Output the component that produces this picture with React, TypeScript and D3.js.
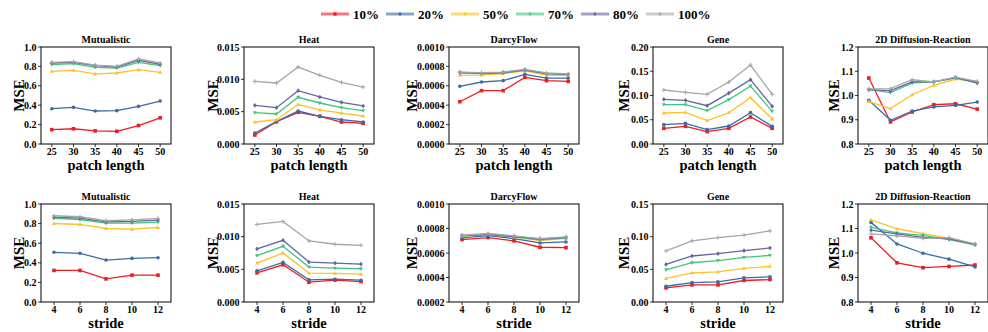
import React from 'react';
import * as d3 from 'd3';

const seriesNames = ['10%', '20%', '50%', '70%', '80%', '100%'];
const seriesColors = ['#ee1c25', '#3b6ba5', '#ffc125', '#3dc67d', '#6464a4', '#a6a6a6'];
const seriesMarkers = ['square', 'circle', 'triUp', 'triDown', 'diamond', 'plus'];

const patchLengths = [25, 30, 35, 40, 45, 50];
const strides = [4, 6, 8, 10, 12];
const titles = ['Mutualistic', 'Heat', 'DarcyFlow', 'Gene', '2D Diffusion-Reaction'];

// Row 1: patch length
const mutualisticPatch = [
  [0.148, 0.157, 0.135, 0.131, 0.19, 0.27],
  [0.364, 0.378, 0.34, 0.344, 0.388, 0.443],
  [0.749, 0.76, 0.722, 0.732, 0.766, 0.739],
  [0.818, 0.828, 0.79, 0.783, 0.842, 0.808],
  [0.835, 0.842, 0.808, 0.794, 0.863, 0.821],
  [0.842, 0.849, 0.814, 0.8, 0.876, 0.835],
];
const heatPatch = [
  [0.00139, 0.00345, 0.0049, 0.00428, 0.0034, 0.0032],
  [0.0017, 0.00345, 0.0051, 0.00428, 0.00376, 0.0034],
  [0.0034, 0.00376, 0.00613, 0.00526, 0.00479, 0.00433],
  [0.00485, 0.00464, 0.00722, 0.00634, 0.00562, 0.00515],
  [0.00598, 0.00562, 0.00825, 0.00727, 0.00644, 0.00588],
  [0.00969, 0.00943, 0.0119, 0.01062, 0.00954, 0.00881],
];
const darcyPatch = [
  [0.000436, 0.00055, 0.00055, 0.000687, 0.000653, 0.000646],
  [0.000595, 0.000639, 0.000653, 0.000718, 0.00068, 0.00068],
  [0.000708, 0.000711, 0.000725, 0.000753, 0.000711, 0.000708],
  [0.000732, 0.000725, 0.000732, 0.00076, 0.000722, 0.000715],
  [0.000738, 0.00073, 0.000737, 0.000765, 0.000727, 0.000718],
  [0.000742, 0.000735, 0.000742, 0.00077, 0.000732, 0.000722],
];
const genePatch = [
  [0.0323, 0.0364, 0.0254, 0.0323, 0.0557, 0.0323],
  [0.0399, 0.0426, 0.0296, 0.0371, 0.0646, 0.0364],
  [0.0639, 0.0653, 0.0481, 0.0646, 0.0955, 0.0515],
  [0.0811, 0.0811, 0.0687, 0.0914, 0.1196, 0.0674],
  [0.0921, 0.09, 0.079, 0.105, 0.1326, 0.0777],
  [0.1113, 0.1065, 0.1024, 0.1278, 0.1629, 0.1024],
];
const diffusionPatch = [
  [1.072, 0.891, 0.932, 0.962, 0.966, 0.944],
  [0.98, 0.898, 0.936, 0.953, 0.959, 0.973],
  [0.975, 0.946, 1.003, 1.042, 1.068, 1.058],
  [1.024, 1.012, 1.052, 1.056, 1.072, 1.052],
  [1.024, 1.02, 1.056, 1.056, 1.075, 1.052],
  [1.027, 1.028, 1.065, 1.056, 1.076, 1.058],
];

// Row 2: stride
const mutualisticStride = [
  [0.322, 0.322, 0.236, 0.274, 0.274],
  [0.507, 0.497, 0.428, 0.445, 0.452],
  [0.801, 0.791, 0.75, 0.743, 0.76],
  [0.853, 0.842, 0.805, 0.805, 0.815],
  [0.866, 0.856, 0.818, 0.822, 0.836],
  [0.88, 0.87, 0.829, 0.839, 0.853],
];
const heatStride = [
  [0.00447, 0.0057, 0.00303, 0.00334, 0.00313],
  [0.00478, 0.00606, 0.00339, 0.00349, 0.00334],
  [0.00596, 0.0075, 0.00442, 0.00437, 0.00426],
  [0.00709, 0.00853, 0.00534, 0.00519, 0.00509],
  [0.00812, 0.00945, 0.00611, 0.00596, 0.0058],
  [0.01187, 0.01233, 0.00935, 0.00884, 0.00868],
];
const darcyStride = [
  [0.00071, 0.000726, 0.000699, 0.000647, 0.000644],
  [0.000723, 0.000742, 0.000718, 0.000682, 0.00069],
  [0.000737, 0.00075, 0.000731, 0.000701, 0.00072],
  [0.00074, 0.00075, 0.000732, 0.000707, 0.000723],
  [0.000742, 0.000753, 0.000734, 0.000715, 0.000726],
  [0.000745, 0.000759, 0.00074, 0.000718, 0.000732],
];
const geneStride = [
  [0.0216, 0.0262, 0.0262, 0.0329, 0.0344],
  [0.0241, 0.0298, 0.0308, 0.037, 0.0385],
  [0.036, 0.0447, 0.0462, 0.0514, 0.0545],
  [0.0493, 0.0601, 0.0632, 0.0683, 0.0714],
  [0.0575, 0.0704, 0.074, 0.0786, 0.0827],
  [0.0781, 0.0935, 0.0986, 0.1022, 0.1089],
];
const diffusionStride = [
  [1.062, 0.96, 0.94, 0.945, 0.951],
  [1.125, 1.037, 0.999, 0.975, 0.943],
  [1.135, 1.099, 1.079, 1.06, 1.033],
  [1.105, 1.082, 1.072, 1.055, 1.033],
  [1.093, 1.078, 1.064, 1.058, 1.035],
  [1.078, 1.07, 1.06, 1.063, 1.037],
];

// Y axis settings per panel: [min, max, step, decimals]
const yPatchDomains = [[0, 1, 0.2, 1], [0, 0.015, 0.005, 3], [0, 0.001, 0.0002, 4], [0, 0.2, 0.05, 2], [0.8, 1.2, 0.1, 1]];
const yStrideDomains = [[0, 1, 0.2, 1], [0, 0.015, 0.005, 3], [0.0002, 0.001, 0.0002, 4], [0, 0.15, 0.05, 2], [0.8, 1.2, 0.1, 1]];

const patchData = [mutualisticPatch, heatPatch, darcyPatch, genePatch, diffusionPatch];
const strideData = [mutualisticStride, heatStride, darcyStride, geneStride, diffusionStride];

const W = 988;
const H = 332;
const FONT = 'Liberation Serif';
const panelLefts = [41, 244, 449, 653, 858];
const panelWidth = 130;
const yLabelOffsets = [17, 26, 32, 24, 19];
const rows = [
  { top: 47, bottom: 144, xs: patchLengths, xDomain: [22.5, 52.5], xLabel: 'patch length', data: patchData, yd: yPatchDomains },
  { top: 204, bottom: 302, xs: strides, xDomain: [3, 13], xLabel: 'stride', data: strideData, yd: yStrideDomains },
];

function Marker({ type, x, y, color, s = 1.8 }: { type: string; x: number; y: number; color: string; s?: number }) {
  switch (type) {
    case 'square':
      return <rect x={x - s} y={y - s} width={2 * s} height={2 * s} fill={color} />;
    case 'circle':
      return <circle cx={x} cy={y} r={s} fill={color} />;
    case 'triUp':
      return <path d={`M${x},${y - s * 1.2}L${x + s * 1.1},${y + s * 0.8}L${x - s * 1.1},${y + s * 0.8}Z`} fill={color} />;
    case 'triDown':
      return <path d={`M${x},${y + s * 1.2}L${x + s * 1.1},${y - s * 0.8}L${x - s * 1.1},${y - s * 0.8}Z`} fill={color} />;
    case 'diamond':
      return <path d={`M${x},${y - s * 1.3}L${x + s},${y}L${x},${y + s * 1.3}L${x - s},${y}Z`} fill={color} />;
    default:
      return <path d={`M${x - s * 1.2},${y}H${x + s * 1.2}M${x},${y - s * 1.2}V${y + s * 1.2}`} stroke={color} strokeWidth={1} />;
  }
}

function Panel({ row, idx }: { row: any; idx: number }) {
  const left = panelLefts[idx];
  const right = left + panelWidth;
  const [ymin, ymax, step, dec] = row.yd[idx];
  const x = d3.scaleLinear().domain(row.xDomain).range([left, right]);
  const y = d3.scaleLinear().domain([ymin, ymax]).range([row.bottom, row.top]);
  const yTicks = d3.range(ymin, ymax + step / 2, step);
  const fmt = d3.format(`.${dec}f`);
  const line = d3.line<number>().x((_, i) => x(row.xs[i])).y((v) => y(v));
  const series: number[][] = row.data[idx];
  return (
    <g>
      <text x={(left + right) / 2} y={row.top - 4} textAnchor="middle" fontSize={10} fontWeight="bold" fontFamily={FONT}>
        {titles[idx]}
      </text>
      {series.map((vals, si) => (
        <g key={si}>
          <path d={line(vals) || ''} fill="none" stroke={seriesColors[si]} strokeWidth={1.3} />
          {vals.map((v, i) => (
            <Marker key={i} type={seriesMarkers[si]} x={x(row.xs[i])} y={y(v)} color={seriesColors[si]} />
          ))}
        </g>
      ))}
      <rect x={left} y={row.top} width={panelWidth} height={row.bottom - row.top} fill="none" stroke="#000" strokeWidth={1} />
      {yTicks.map((t: number, i: number) => (
        <g key={i}>
          <line x1={left - 3} x2={left} y1={y(t)} y2={y(t)} stroke="#000" strokeWidth={0.8} />
          <text x={left - 4.5} y={y(t)} dy="0.35em" textAnchor="end" fontSize={10} fontWeight="bold" fontFamily={FONT}>
            {fmt(t)}
          </text>
        </g>
      ))}
      {row.xs.map((t: number, i: number) => (
        <g key={i}>
          <line x1={x(t)} x2={x(t)} y1={row.bottom} y2={row.bottom + 3} stroke="#000" strokeWidth={0.8} />
          <text x={x(t)} y={row.bottom + 10.5} textAnchor="middle" fontSize={10} fontWeight="bold" fontFamily={FONT}>
            {t}
          </text>
        </g>
      ))}
      <text x={(left + right) / 2} y={row.bottom + 25.5} textAnchor="middle" fontSize={14.5} fontWeight="bold" fontFamily={FONT}>
        {row.xLabel}
      </text>
      <text
        transform={`translate(${left - yLabelOffsets[idx]},${(row.top + row.bottom) / 2}) rotate(-90)`}
        textAnchor="middle"
        fontSize={15}
        fontWeight="bold"
        fontFamily={FONT}
      >
        MSE
      </text>
    </g>
  );
}

function Legend() {
  const startX = 321;
  const cy = 14;
  const lineW = 28;
  let cx = startX;
  const items = seriesNames.map((name, i) => {
    const textW = name.length === 4 ? 32.5 : 26;
    const gx = cx;
    cx += lineW + 4 + textW + 7;
    return (
      <g key={i}>
        <line x1={gx} x2={gx + lineW} y1={cy} y2={cy} stroke={seriesColors[i]} strokeWidth={3} strokeOpacity={0.6} />
        <Marker type={seriesMarkers[i]} x={gx + lineW / 2} y={cy} color={seriesColors[i]} s={1.6} />
        <text x={gx + lineW + 4} y={cy} dy="0.35em" fontSize={13} fontWeight="bold" fontFamily={FONT}>
          {name}
        </text>
      </g>
    );
  });
  return <g>{items}</g>;
}

export default function App() {
  return (
    <svg width={W} height={H} style={{ position: 'absolute', left: 0, top: 0, background: '#fff' }}>
      <rect width={W} height={H} fill="#fff" />
      <Legend />
      {rows.map((row, ri) => (
        <g key={ri}>
          {titles.map((_, idx) => (
            <Panel key={idx} row={row} idx={idx} />
          ))}
        </g>
      ))}
    </svg>
  );
}
